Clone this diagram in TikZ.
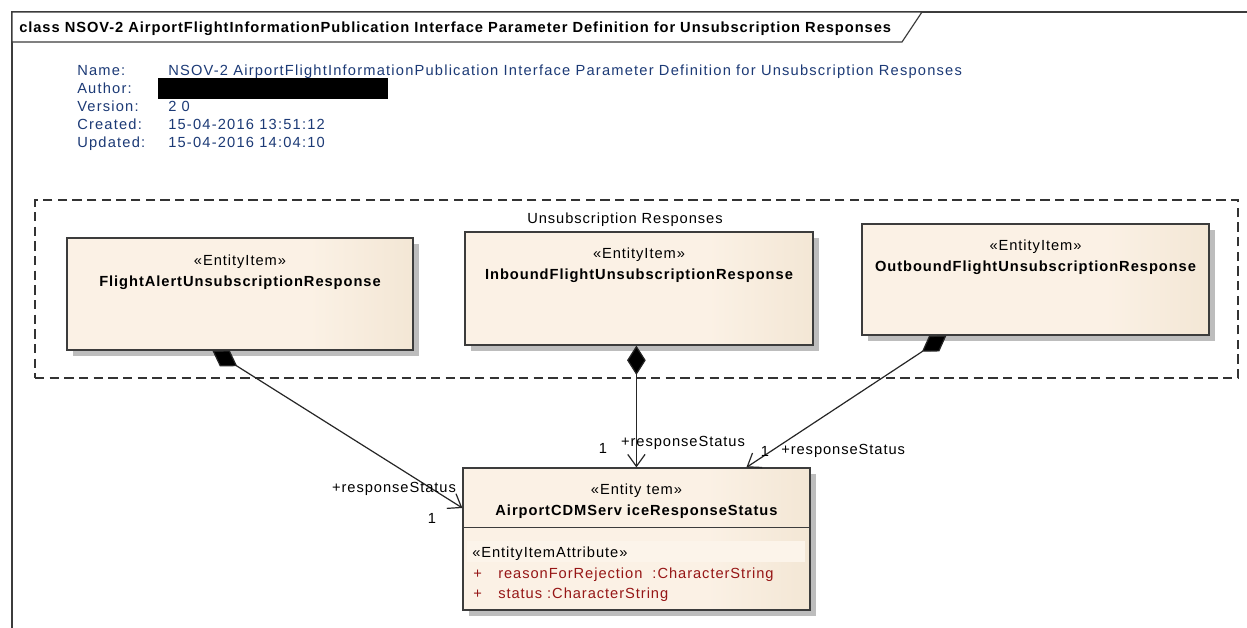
\documentclass[tikz,border=0pt]{standalone}
\usepackage{fontspec}
\setmainfont{Liberation Sans}[LetterSpace=6.5]
\usetikzlibrary{arrows.meta,shadows,calc}

\definecolor{metablue}{RGB}{28,58,118}
\definecolor{attrred}{RGB}{150,22,22}
\definecolor{framegray}{RGB}{60,60,60}
\definecolor{clsA}{RGB}{245,234,218}
\definecolor{clsB}{RGB}{251,241,229}
\definecolor{clsC}{RGB}{230,213,186}
\definecolor{rowhl}{RGB}{252,244,234}

\pgfdeclarehorizontalshading{clsfill}{100bp}{%
  color(0bp)=(clsA); color(8bp)=(clsB); color(60bp)=(clsB); color(100bp)=(clsC)}

\tikzset{
  cls/.style={draw=framegray, line width=0.9pt, inner sep=0pt, shading=clsfill,
    drop shadow={shadow xshift=4.5pt, shadow yshift=-4.5pt, fill=black!26, opacity=1}},
  txt/.style={font=\fontsize{11pt}{13pt}\selectfont, inner sep=0pt, anchor=base},
  stereo/.style={txt},
  clsname/.style={txt, font=\fontsize{11pt}{13pt}\selectfont\bfseries},
  meta/.style={txt, font=\fontsize{11pt}{13pt}\selectfont\addfontfeatures{LetterSpace=8.2},
    text=metablue, anchor=base west},
  attr/.style={txt, text=attrred, anchor=base west},
  rolelbl/.style={txt},
  assoc/.style={draw=black!85, line width=0.9pt,
    {Diamond[length=22pt,width=14pt,fill=black]}-{Straight Barb[length=9pt,width=13pt]}},
}

\begin{document}
\begin{tikzpicture}[x=0.75pt,y=-0.75pt]
\useasboundingbox (0,0) rectangle (1247,628);
\fill[white] (0,0) rectangle (1247,628);

% diagram frame and title tab
\draw[framegray, line width=0.9pt] (12,628) -- (12,12) -- (1247,12);
\draw[framegray, line width=0.9pt, fill=white] (12,12) -- (922,12) -- (902,42) -- (12,42) -- cycle;
\node[clsname, anchor=base west] (title) at (19,32)
  {class NSOV-2 AirportFlightInformationPublication Interface Parameter Definition for Unsubscription Responses};

% diagram properties
\node[meta] (kname) at (77,75) {Name:};
\node[meta] (kauth) at (77,93) {Author:};
\node[meta] (kver) at (77,111) {Version:};
\node[meta] (kcre) at (77,129) {Created:};
\node[meta] (kupd) at (77,147) {Updated:};
\node[meta] (vname) at (168,75) {NSOV-2 AirportFlightInformationPublication Interface Parameter Definition for Unsubscription Responses};
\fill[black] (158,78) rectangle (388,99);
\node[meta] (vver) at (168,111) {2 0};
\node[meta] (vcre) at (168,129) {15-04-2016 13:51:12};
\node[meta] (vupd) at (168,147) {15-04-2016 14:04:10};

% boundary of the response group
\node[draw=black!80, line width=0.9pt, dash pattern=on 7pt off 4pt, inner sep=0pt,
  minimum width=902.25pt, minimum height=133.5pt] (grp) at (636.5,289) {};
\node[txt] (grplbl) at (625,223) {Unsubscription Responses};

% classes
\node[cls, minimum width=259.5pt, minimum height=84pt] (fa) at (240,294) {};
\node[stereo] (fa-s) at (240,265) {«EntityItem»};
\node[clsname] (fa-n) at (240,286) {FlightAlertUnsubscriptionResponse};

\node[cls, minimum width=261pt, minimum height=84.75pt] (ib) at (639,288.5) {};
\node[stereo] (ib-s) at (639,258) {«EntityItem»};
\node[clsname] (ib-n) at (639,279) {InboundFlightUnsubscriptionResponse};

\node[cls, minimum width=260.25pt, minimum height=83.25pt] (ob) at (1035.5,279.5) {};
\node[stereo] (ob-s) at (1035.5,250) {«EntityItem»};
\node[clsname] (ob-n) at (1035.5,271) {OutboundFlightUnsubscriptionResponse};

\node[cls, minimum width=260.25pt, minimum height=106.5pt] (cdm) at (636.5,539) {};
\node[stereo] (cdm-s) at (636.5,494) {«Entity tem»};
\node[clsname] (cdm-n) at (636.5,515) {AirportCDMServ iceResponseStatus};
\draw[framegray, line width=0.9pt] ($(cdm.north west)+(0,60)$) -- ($(cdm.north east)+(0,60)$);
\fill[rowhl] (467,541) rectangle (805,562);
\node[txt, anchor=base west] (cdm-as) at (472,557) {«EntityItemAttribute»};
\node[attr] (cdm-p1) at (473,578) {+};
\node[attr] (cdm-a1) at (498,578) {reasonForRejection~~:CharacterString};
\node[attr] (cdm-p2) at (473,598) {+};
\node[attr] (cdm-a2) at (498,598) {status :CharacterString};

% composition associations
\draw[assoc] ($(fa.south west)+(146,0)$) -- ($(cdm.west)+(0,-31)$);
\draw[assoc] ($(ib.south west)+(172,0)$) -- ($(cdm.north west)+(174,0)$);
\draw[assoc] ($(ob.south west)+(85,0)$) -- ($(cdm.north west)+(284,0)$);

% association end labels
\node[rolelbl] (r1) at (394,492) {+responseStatus};
\node[rolelbl] (m1) at (432,523) {1};
\node[rolelbl] (r2) at (683,446) {+responseStatus};
\node[rolelbl] (m2) at (603,453) {1};
\node[rolelbl, anchor=base west] (r3) at (781,454) {+responseStatus};
\node[rolelbl] (m3) at (765,456) {1};
\end{tikzpicture}
\end{document}
